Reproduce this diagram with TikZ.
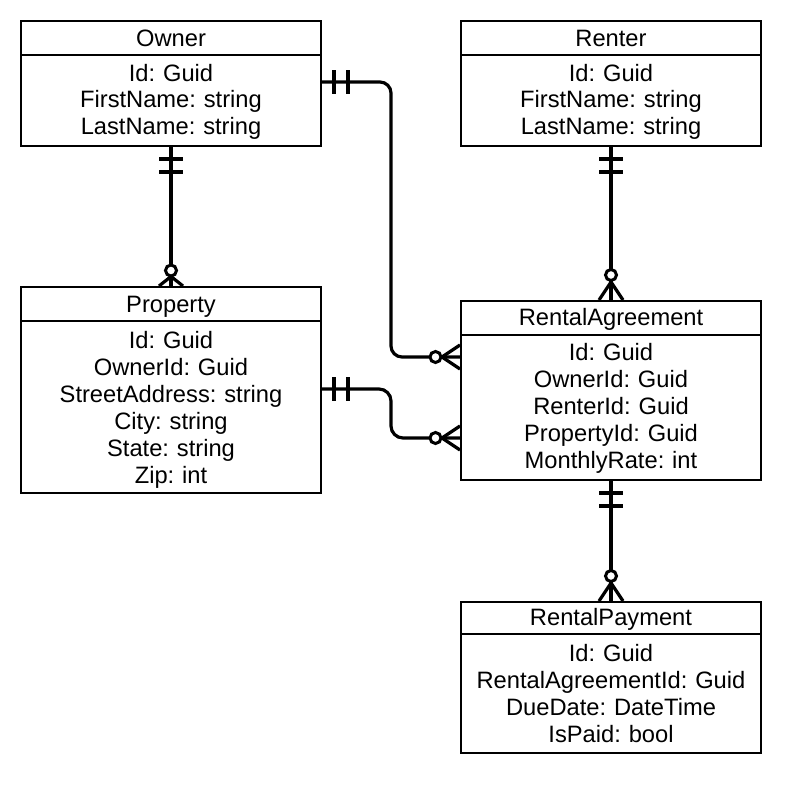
\documentclass[tikz,border=0pt]{standalone}
\usepackage{fontspec}
\setmainfont{Liberation Sans}
\frenchspacing
\usetikzlibrary{calc}
\tikzset{
  entity/.style={draw, line width=2pt, minimum width=300pt, inner sep=0pt, fill=white},
  hdrline/.style={line width=2pt},
  etitle/.style={anchor=base, inner sep=0pt, font=\fontsize{23.7}{27}\selectfont},
  ebody/.style={anchor=base, inner sep=0pt, text width=300pt, align=center, font=\fontsize{23.7}{27}\selectfont},
  conn/.style={line width=3.2pt},
  zerocirc/.style={line width=3pt, fill=white},
}
\newcommand{\erOneH}[1]{%
  \draw[conn] ([shift={(12pt,12pt)}]#1) -- ([shift={(12pt,-12pt)}]#1);
  \draw[conn] ([shift={(26pt,12pt)}]#1) -- ([shift={(26pt,-12pt)}]#1);}
\newcommand{\erOneV}[1]{%
  \draw[conn] ([shift={(-12pt,-12pt)}]#1) -- ([shift={(12pt,-12pt)}]#1);
  \draw[conn] ([shift={(-12pt,-25pt)}]#1) -- ([shift={(12pt,-25pt)}]#1);}
\newcommand{\erManyH}[1]{%
  \draw[conn] ([xshift=-18pt]#1) -- ([yshift=12pt]#1);
  \draw[conn] ([xshift=-18pt]#1) -- ([yshift=-12pt]#1);
  \draw[zerocirc] ([xshift=-24.5pt]#1) circle[radius=5.5pt];}
\newcommand{\erManyV}[3]{%
  \draw[conn] ([yshift=#3]#1) -- ([xshift=12pt]#1);
  \draw[conn] ([yshift=#3]#1) -- ([xshift=-12pt]#1);
  \draw[zerocirc] ([yshift=#2]#1) circle[radius=5.5pt];}
\begin{document}
\begin{tikzpicture}[x=1pt, y=-1pt]
\useasboundingbox[fill=white] (0,0) rectangle (804,795);

% Entities
\node[entity, minimum height=125pt] (owner) at (171,83.5) {};
\draw[hdrline] ([yshift=-35pt]owner.north west) -- ([yshift=-35pt]owner.north east);
\node[etitle] (ownerT) at (171,46) {Owner};
\node[ebody] (ownerB) at (171,81) {Id: Guid\\FirstName: string\\LastName: string};

\node[entity, minimum height=125pt] (renter) at (611,83.5) {};
\draw[hdrline] ([yshift=-35pt]renter.north west) -- ([yshift=-35pt]renter.north east);
\node[etitle] (renterT) at (611,46) {Renter};
\node[ebody] (renterB) at (611,81) {Id: Guid\\FirstName: string\\LastName: string};

\node[entity, minimum height=206pt] (property) at (171,390) {};
\draw[hdrline] ([yshift=-35pt]property.north west) -- ([yshift=-35pt]property.north east);
\node[etitle] (propertyT) at (171,312) {Property};
\node[ebody] (propertyB) at (171,348) {Id: Guid\\OwnerId: Guid\\StreetAddress: string\\City: string\\State: string\\Zip: int};

\node[entity, minimum height=179pt] (ragree) at (611,390.5) {};
\draw[hdrline] ([yshift=-35pt]ragree.north west) -- ([yshift=-35pt]ragree.north east);
\node[etitle] (ragreeT) at (611,325) {RentalAgreement};
\node[ebody] (ragreeB) at (611,360) {Id: Guid\\OwnerId: Guid\\RenterId: Guid\\PropertyId: Guid\\MonthlyRate: int};

\node[entity, minimum height=151pt] (rpay) at (611,677.5) {};
\draw[hdrline] ([yshift=-33pt]rpay.north west) -- ([yshift=-33pt]rpay.north east);
\node[etitle] (rpayT) at (611,625) {RentalPayment};
\node[ebody] (rpayB) at (611,661) {Id: Guid\\RentalAgreementId: Guid\\DueDate: DateTime\\IsPaid: bool};

% Connectors
\coordinate (c1s) at ([yshift=1.5pt]owner.east);
\coordinate (c1e) at ([yshift=33.5pt]ragree.west);
\draw[conn, rounded corners=11pt] (c1s) -| ($(c1s)!0.5!(c1e)$) |- (c1e);
\erOneH{c1s}
\erManyH{c1e}

\coordinate (c2s) at ([yshift=1pt]property.east);
\coordinate (c2e) at ([yshift=-47.5pt]ragree.west);
\draw[conn, rounded corners=12pt] (c2s) -| ($(c2s)!0.5!(c2e)$) |- (c2e);
\erOneH{c2s}
\erManyH{c2e}

\draw[conn] (owner.south) -- (property.north);
\erOneV{owner.south}
\erManyV{property.north}{15.5pt}{9.5pt}

\draw[conn] (renter.south) -- (ragree.north);
\erOneV{renter.south}
\erManyV{ragree.north}{25pt}{18pt}

\draw[conn] (ragree.south) -- (rpay.north);
\erOneV{ragree.south}
\erManyV{rpay.north}{25pt}{18pt}
\end{tikzpicture}
\end{document}
